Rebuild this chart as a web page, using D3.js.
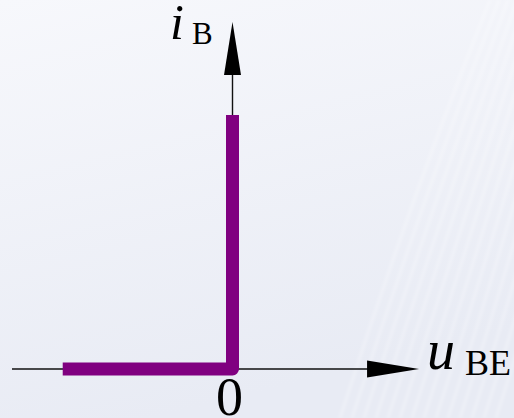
<!DOCTYPE html>
<html><head><meta charset="utf-8">
<script src="https://cdn.jsdelivr.net/npm/d3@7"></script>
<style>html,body{margin:0;padding:0;overflow:hidden;background:#eef0f8}</style>
</head><body>
<script>
// Data (idealized input characteristic of a BJT base-emitter junction)
const uBE = [-0.77, 0, 0];     // horizontal values (normalized)
const iB  = [0, 0, 1];         // vertical values (normalized)
const xAxisExtent = [-1.0, 0.846];
const yAxisExtent = [0, 1.366];
const originLabel = "0";

const W = 514, H = 418;
const svg = d3.select("body").append("svg").attr("width", W).attr("height", H);
const defs = svg.append("defs");
const g = defs.append("linearGradient").attr("id","bg").attr("x1","0").attr("y1","0").attr("x2","0.3").attr("y2","1");
g.append("stop").attr("offset","0").attr("stop-color","#f7f8fc");
g.append("stop").attr("offset","1").attr("stop-color","#e8ebf4");
svg.append("rect").attr("width",W).attr("height",H).attr("fill","url(#bg)");
defs.append("filter").attr("id","blur").append("feGaussianBlur").attr("stdDeviation",1.5);
// faint diagonal streaks
const streaks = d3.range(0, 14);
svg.append("g").attr("filter","url(#blur)").selectAll("path").data(streaks).join("path")
  .attr("d", d => `M${340+d*12},${H} Q${410+d*12},200 ${490+d*9},0`)
  .attr("fill","none").attr("stroke","#ffffff").attr("stroke-opacity",0.3).attr("stroke-width",2.5);

const x = d3.scaleLinear().domain([-1, 1]).range([12, 453]);
const y = d3.scaleLinear().domain([0, 1]).range([369, 115]);

// axes
svg.append("line").attr("x1", x(xAxisExtent[0])).attr("x2", x(xAxisExtent[1]) - 40)
  .attr("y1", y(0)).attr("y2", y(0)).attr("stroke","#111").attr("stroke-width",1.4);
svg.append("line").attr("x1", x(0)).attr("x2", x(0))
  .attr("y1", y(0)).attr("y2", y(yAxisExtent[1]) + 40).attr("stroke","#111").attr("stroke-width",1.4);
// arrowheads
const tipX = x(xAxisExtent[1]), y0 = y(0);
svg.append("path").attr("d", `M${tipX},${y0} L${tipX-52},${y0-8.5} L${tipX-52},${y0+8.5} Z`).attr("fill","#000");
const tipY = y(yAxisExtent[1]), x0 = x(0);
svg.append("path").attr("d", `M${x0},${tipY} L${x0-8.5},${tipY+53} L${x0+8.5},${tipY+53} Z`).attr("fill","#000");

// curve
const pts = uBE.map((u, k) => [u, iB[k]]);
svg.append("path").datum(pts)
  .attr("d", d3.line().x(d => x(d[0])).y(d => y(d[1])))
  .attr("fill","none").attr("stroke","#800080").attr("stroke-width",13)
  .attr("stroke-linejoin","round").attr("stroke-linecap","butt");

// labels
const serif = '"Liberation Serif", "Times New Roman", serif';
const ti = svg.append("text").style("font-family", serif).attr("x",170).attr("y",39);
ti.append("tspan").style("font-style","italic").attr("font-size",50).text("i");
ti.append("tspan").attr("font-size",31).attr("x",192).attr("y",44).text("B");
const tu = svg.append("text").style("font-family", serif).attr("x",427).attr("y",369);
tu.append("tspan").style("font-style","italic").attr("font-size",56).text("u");
tu.append("tspan").attr("font-size",36).attr("x",465).attr("y",375).text("BE");
svg.append("text").style("font-family", serif).attr("x",x(0)-3).attr("y",415).attr("text-anchor","middle")
  .attr("font-size",54).text(originLabel);
</script>
</body></html>
